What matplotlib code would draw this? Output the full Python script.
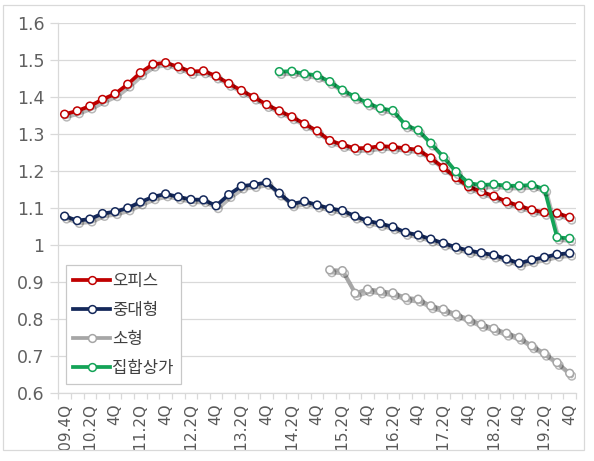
import matplotlib
matplotlib.use('Agg')
import matplotlib.pyplot as plt
import matplotlib.patheffects as pe
from matplotlib.lines import Line2D
from matplotlib.patches import Rectangle
from matplotlib.ticker import FixedLocator, FuncFormatter
import numpy as np

nan = np.nan

# 41 quarters: 2009Q4 ... 2019Q4
quarters = [f"{y}Q{q}" for y in range(2009, 2020) for q in range(1, 5)][3:]

tick_labels = ["'09.4Q", "'10.2Q", "4Q", "'11.2Q", "4Q", "'12.2Q", "4Q",
               "'13.2Q", "4Q", "'14.2Q", "4Q", "'15.2Q", "4Q", "'16.2Q", "4Q",
               "'17.2Q", "4Q", "'18.2Q", "4Q", "'19.2Q", "4Q"]

series_names = ["오피스", "중대형", "소형", "집합상가"]

office = [1.353, 1.362, 1.375, 1.393, 1.408, 1.434, 1.465, 1.488, 1.492, 1.481,
          1.468, 1.470, 1.456, 1.436, 1.417, 1.399, 1.379, 1.362, 1.346, 1.327,
          1.308, 1.282, 1.271, 1.261, 1.262, 1.267, 1.265, 1.261, 1.257, 1.235,
          1.209, 1.182, 1.157, 1.144, 1.132, 1.117, 1.106, 1.095, 1.088, 1.086,
          1.075]

mid_large = [1.078, 1.066, 1.070, 1.085, 1.090, 1.100, 1.116, 1.130, 1.138, 1.130,
             1.123, 1.122, 1.106, 1.136, 1.159, 1.163, 1.169, 1.140, 1.111, 1.118,
             1.108, 1.099, 1.093, 1.078, 1.065, 1.058, 1.049, 1.034, 1.027, 1.016,
             1.005, 0.994, 0.985, 0.979, 0.973, 0.962, 0.951, 0.960, 0.967, 0.975,
             0.978]

small = [nan] * 21 + [0.933, 0.931, 0.870, 0.881, 0.876, 0.871, 0.858, 0.854,
                      0.836, 0.827, 0.813, 0.800, 0.786, 0.775, 0.762, 0.751,
                      0.728, 0.708, 0.683, 0.654]

collective = [nan] * 17 + [1.468, 1.469, 1.462, 1.458, 1.441, 1.418, 1.400, 1.383,
                           1.369, 1.363, 1.324, 1.310, 1.275, 1.238, 1.198, 1.167,
                           1.162, 1.164, 1.160, 1.160, 1.162, 1.151, 1.021, 1.018]

colors = ["#C00000", "#14285A", "#A6A6A6", "#13A357"]
all_series = [office, mid_large, small, collective]

W, H = 594, 461
fig = plt.figure(figsize=(W / 100, H / 100), dpi=100)
fig.patch.set_facecolor('white')

left, right, top, bottom = 58.3, 576.0, 22.7, 393.3
ax = fig.add_axes([left / W, 1 - bottom / H, (right - left) / W, (bottom - top) / H])

x = np.arange(len(quarters))
shadow = [pe.SimpleLineShadow(offset=(1.5, -2.0), shadow_color='black', alpha=0.28),
          pe.Normal()]

for vals, c in zip(all_series, colors):
    ax.plot(x, vals, color=c, lw=2.7, marker='o', markersize=5.6,
            markerfacecolor='white', markeredgecolor=c, markeredgewidth=1.1,
            path_effects=shadow, solid_joinstyle='round')

ax.set_xlim(-0.5, len(quarters) - 0.5)
ax.set_ylim(0.6, 1.6)

grid_c = '#D9D9D9'
ax.set_yticks(np.round(np.arange(0.6, 1.61, 0.1), 1))
ax.yaxis.set_major_formatter(FuncFormatter(lambda v, p: f"{v:g}"))
ax.yaxis.grid(True, color=grid_c, lw=0.9)
ax.set_axisbelow(True)

ax.xaxis.set_major_locator(FixedLocator(x[::2]))
ax.set_xticklabels(tick_labels, rotation=90, va='top', ha='center')
ax.xaxis.set_minor_locator(FixedLocator(np.arange(-0.5, len(quarters), 1.0)))
ax.tick_params(axis='x', which='major', length=0, pad=7, labelsize=11, labelcolor='#595959')
ax.tick_params(axis='x', which='minor', length=4.5, color=grid_c, width=0.9)
ax.tick_params(axis='y', length=6, color=grid_c, width=0.9, pad=4, labelsize=12.5,
               labelcolor='#606060')

for s in ['top', 'right']:
    ax.spines[s].set_visible(False)
for s in ['left', 'bottom']:
    ax.spines[s].set_color(grid_c)
    ax.spines[s].set_linewidth(0.9)

handles = [Line2D([], [], color=c, lw=2.7, marker='o', markersize=5.6,
                  markerfacecolor='white', markeredgecolor=c, markeredgewidth=1.1)
           for c in colors]
leg = ax.legend(handles, series_names, loc='lower left',
                bbox_to_anchor=(0.0143, 0.025), borderaxespad=0,
                prop={'family': ['Noto Sans CJK KR', 'DejaVu Sans'], 'size': 12},
                handlelength=2.2, handletextpad=0.15, labelspacing=0.72,
                borderpad=0.45, fancybox=False, framealpha=1, edgecolor='#C8C8C8')
leg.get_frame().set_linewidth(0.9)
for t in leg.get_texts():
    t.set_color('#404040')

# clip region below chart frame and draw the outer frame
fig.add_artist(Rectangle((0, 0), 1, 1 - 451 / H, transform=fig.transFigure,
                         facecolor='white', edgecolor='none', zorder=10))
fig.add_artist(Rectangle((3 / W, 1 - 450 / H), 581 / W, 445 / H, transform=fig.transFigure,
                         facecolor='none', edgecolor='#D9D9D9', lw=0.9, zorder=11))

fig.savefig('out.png', dpi=100, facecolor='white')
